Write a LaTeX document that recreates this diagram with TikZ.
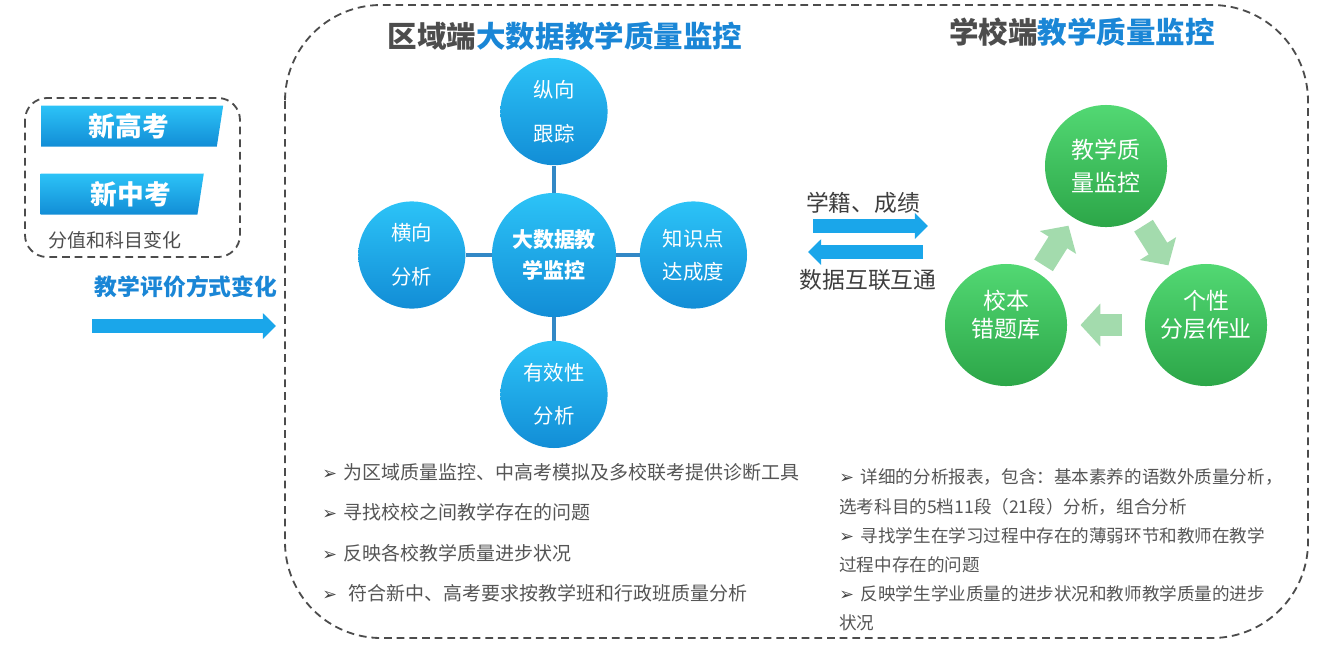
\documentclass[tikz,border=0pt]{standalone}
\usepackage{fontspec}
\setmainfont{Noto Sans CJK SC}
\newfontfamily\symfont{DejaVu Sans}
\usepackage{xcolor}
\usetikzlibrary{positioning, arrows.meta, shapes.geometric}

\definecolor{ttlblue}{HTML}{1A86D6}
\definecolor{ttlgray}{HTML}{4D4D4D}
\definecolor{txtgray}{HTML}{555555}
\definecolor{skyA}{HTML}{2CC3F7}
\definecolor{skyB}{HTML}{128DD6}
\definecolor{grnA}{HTML}{52D873}
\definecolor{grnB}{HTML}{2CA648}
\definecolor{cycgrn}{HTML}{A3DBAD}
\definecolor{linkblue}{HTML}{3288C6}
\definecolor{arrblue}{HTML}{1AA6EA}

\newcommand{\bul}{{\symfont\color{txtgray!80!black}\fontsize{12.5}{12}\selectfont ➢}\hspace{0.17cm}}

\tikzset{
    frame/.style={draw=black!70, dash pattern=on 5.5pt off 3.5pt, line width=1.3pt},
    banner/.style={trapezium, trapezium left angle=90, trapezium right angle=104, trapezium stretches body,
        top color=skyA, bottom color=skyB, minimum height=1.025cm, inner sep=0pt,
        text=white, font=\fontsize{19}{22}\selectfont\bfseries},
    title/.style={font=\fontsize{21}{24}\selectfont\bfseries, text=ttlgray, inner sep=0pt},
    hub/.style={circle, top color=skyA, bottom color=skyB, minimum size=3.1cm, inner sep=0pt, align=center,
        text=white, font=\fontsize{14.9}{22}\selectfont\bfseries},
    spoke/.style={circle, top color=skyA, bottom color=skyB, minimum size=2.68cm, inner sep=0pt, align=center,
        text=white, font=\fontsize{14.5}{31}\selectfont},
    ball/.style={circle, top color=grnA, bottom color=grnB, minimum size=3.05cm, inner sep=0pt, align=center,
        text=white, font=\fontsize{16.3}{20}\selectfont},
    link/.style={draw=linkblue, line width=2.2pt},
    barrow/.style={draw=arrblue, line width=0.33cm, -{Triangle[length=0pt 1.0, width=0pt 1.9]}},
    cycarrow/.style={draw=cycgrn, line width=0.55cm, -{Triangle[length=0pt 0.9, width=0pt 1.9]}},
    note/.style={text=txtgray, inner sep=0pt, align=left, font=\fontsize{13.5}{20}\selectfont},
    rnote/.style={text=txtgray, inner sep=0pt, align=left, font=\fontsize{12.5}{20.7}\selectfont},
    label/.style={inner sep=0pt, font=\fontsize{16.2}{20}\selectfont}
}

\begin{document}
\begin{tikzpicture}[x=0.025cm, y=-0.025cm]
    \useasboundingbox (0,0) rectangle (1329,654);

    % Frames
    \draw[frame, rounded corners=0.55cm] (25,98) rectangle (240,257);
    \draw[frame, rounded corners=2.4cm] (285,5) rectangle (1308,638);

    % Left side
    \node[banner, minimum width=4.55cm] (gk) at (129,126) {新高考};
    \node[banner, minimum width=4.08cm] (zk) at (119,194) {\hspace*{0.6cm}新中考};
    \node[inner sep=0pt, text=ttlgray, font=\fontsize{13.5}{16}\selectfont] (chg) at (115,240) {分值和科目变化};
    \node[inner sep=0pt, text=ttlblue, font=\fontsize{16.2}{20}\selectfont\bfseries] (eval) at (186,287) {教学评价方式变化};
    \coordinate (evS) at (92,326);
    \coordinate (evE) at (276,326);
    \draw[barrow] (evS) -- (evE);

    % Titles
    \node[title] (areaT) at (565,36) {区域端\textcolor{ttlblue}{大数据教学质量监控}};
    \node[title] (schT) at (1082,32) {学校端\textcolor{ttlblue}{教学质量监控}};

    % Area hub
    \node[hub] (hub) at (554,255) {大数据教\\学监控};
    \node[spoke, above=0.68cm of hub] (zx) {纵向\\跟踪};
    \node[spoke, left=0.65cm of hub] (hx) {横向\\分析};
    \node[spoke, right=0.58cm of hub, font=\fontsize{14.5}{23.4}\selectfont] (zs) {知识点\\达成度};
    \node[spoke, below=0.58cm of hub] (yx) {有效性\\分析};

    \draw[link] (hub) -- (zx);
    \draw[link] (hub) -- (hx);
    \draw[link] (hub) -- (zs);
    \draw[link] (hub) -- (yx);

    % Area notes
    \node[note, anchor=west] (a1) at (322,472) {\bul 为区域质量监控、中高考模拟及多校联考提供诊断工具};
    \node[note, anchor=west] (a2) at (322,512) {\bul 寻找校校之间教学存在的问题};
    \node[note, anchor=west] (a3) at (322,553) {\bul 反映各校教学质量进步状况};
    \node[note, anchor=west] (a4) at (322,593) {\bul \hspace{0.12cm}符合新中、高考要求按教学班和行政班质量分析};

    % Data exchange
    \node[label, text=ttlgray!80!black] (xj) at (863,203) {学籍、成绩};
    \node[label, text=ttlgray!80!black] (hl) at (868,280) {数据互联互通};
    \coordinate (upS) at (813,226);
    \coordinate (upE) at (928,226);
    \coordinate (dnS) at (923,252);
    \coordinate (dnE) at (808,252);
    \draw[barrow] (upS) -- (upE);
    \draw[barrow] (dnS) -- (dnE);

    % School cycle
    \node[ball, font=\fontsize{16.3}{24}\selectfont] (jx) at (1106,166) {教学质\\量监控};
    \node[ball, text depth=0.55cm] (gx) at (1206,325) {个性\\分层作业};
    \node[ball, text depth=0.55cm] (xb) at (1006,325) {校本\\错题库};

    \draw[cycarrow, shorten <=0.23cm, shorten >=0.23cm] (xb) -- (jx);
    \draw[cycarrow, shorten <=0.23cm, shorten >=0.23cm] (jx) -- (gx);
    \draw[cycarrow, shorten <=0.58cm, shorten >=0.33cm] (gx) -- (xb);

    % School notes
    \node[rnote, anchor=west] (s1) at (839,492) {\bul 详细的分析报表，包含：基本素养的语数外质量分析，\\选考科目的5档11段（21段）分析，组合分析};
    \node[rnote, anchor=west] (s2) at (839,550) {\bul 寻找学生在学习过程中存在的薄弱环节和教师在教学\\过程中存在的问题};
    \node[rnote, anchor=west] (s3) at (839,608) {\bul 反映学生学业质量的进步状况和教师教学质量的进步\\状况};
\end{tikzpicture}
\end{document}
